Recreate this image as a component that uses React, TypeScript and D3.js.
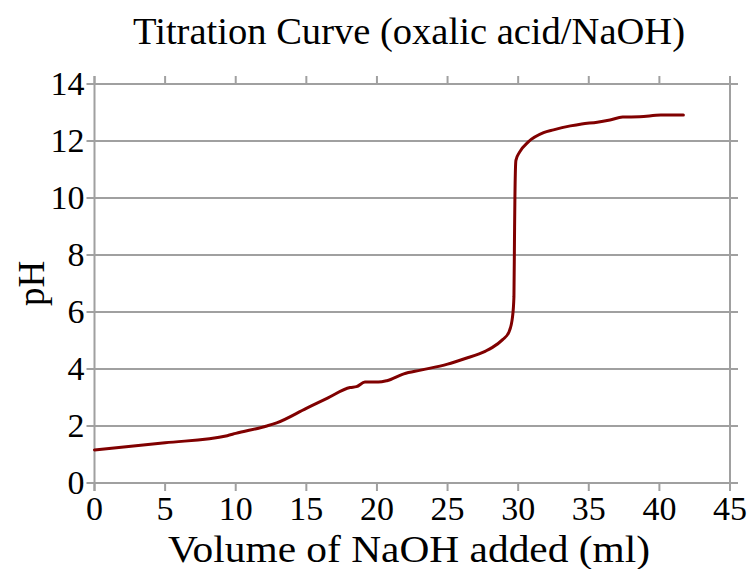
import React from "react";
import * as d3 from "d3";

const volume = [0, 5, 9.4, 10, 12.2, 12.9, 15, 16.5, 18.1, 18.55, 19.15, 20.1, 20.7, 21.9, 23.1, 25, 26.2, 27.7, 28.15, 28.9, 29.35, 29.6, 29.7, 29.74, 29.77, 29.84, 30.1, 30.7, 31.8, 32.5, 33.7, 34.5, 35.6, 36.5, 37.4, 38.6, 40.1, 41.7];
const ph = [1.16, 1.41, 1.66, 1.74, 2.0, 2.11, 2.62, 2.98, 3.35, 3.38, 3.54, 3.54, 3.59, 3.83, 3.96, 4.17, 4.36, 4.63, 4.75, 5.03, 5.3, 5.83, 6.53, 8.63, 10.03, 11.32, 11.61, 11.96, 12.29, 12.39, 12.53, 12.6, 12.66, 12.74, 12.84, 12.85, 12.91, 12.91];
const xTicks = [0, 5, 10, 15, 20, 25, 30, 35, 40, 45];
const yTicks = [0, 2, 4, 6, 8, 10, 12, 14];
const title = "Titration Curve (oxalic acid/NaOH)";
const xLabel = "Volume of NaOH added (ml)";
const yLabel = "pH";

export default function App() {
  const W = 750, H = 569;
  const left = 94.5, right = 730, top = 84, bottom = 483;
  const x = d3.scaleLinear().domain([0, 45]).range([left, right]);
  const y = d3.scaleLinear().domain([0, 14]).range([bottom, top]);
  const pts = volume.map((v, i) => [v, ph[i]] as [number, number]);
  const line = d3.line<[number, number]>().x(d => x(d[0])).y(d => y(d[1])).curve(d3.curveMonotoneX);
  const grid = "#a0a0a0";
  const font = "'Liberation Serif', 'Times New Roman', serif";
  const tl = 8;
  return (
    <svg width={W} height={H} style={{ position: "absolute", left: 0, top: 0 }} fontFamily={font}>
      <rect width={W} height={H} fill="#fff" />
      {yTicks.map(t => (
        <line key={"g" + t} x1={left - tl} x2={right + tl} y1={y(t)} y2={y(t)} stroke={grid} strokeWidth={2} />
      ))}
      {xTicks.map(t => (
        <g key={"x" + t}>
          <line x1={x(t)} x2={x(t)} y1={bottom} y2={bottom + tl} stroke={grid} strokeWidth={2} />
          <line x1={x(t)} x2={x(t)} y1={top} y2={top - tl} stroke={grid} strokeWidth={2} />
          <text x={x(t)} y={520} textAnchor="middle" fontSize={34} fill="#000">{t}</text>
        </g>
      ))}
      <line x1={left} x2={left} y1={top - tl} y2={bottom + tl} stroke={grid} strokeWidth={2} />
      <line x1={right} x2={right} y1={top - tl} y2={bottom + tl} stroke={grid} strokeWidth={2} />
      {yTicks.map(t => (
        <text key={"y" + t} x={left - 10} y={y(t) + 11} textAnchor="end" fontSize={34} fill="#000">{t}</text>
      ))}
      <path d={line(pts) || ""} fill="none" stroke="#800000" strokeWidth={3} strokeLinejoin="round" strokeLinecap="round" />
      <text x={133} y={44} fontSize={37} fill="#000" textLength={552} lengthAdjust="spacingAndGlyphs">{title}</text>
      <text x={168} y={562} fontSize={37} fill="#000" textLength={482} lengthAdjust="spacingAndGlyphs">{xLabel}</text>
      <text transform={`translate(44,${(top + bottom) / 2}) rotate(-90)`} textAnchor="middle" fontSize={37} fill="#000">{yLabel}</text>
    </svg>
  );
}
